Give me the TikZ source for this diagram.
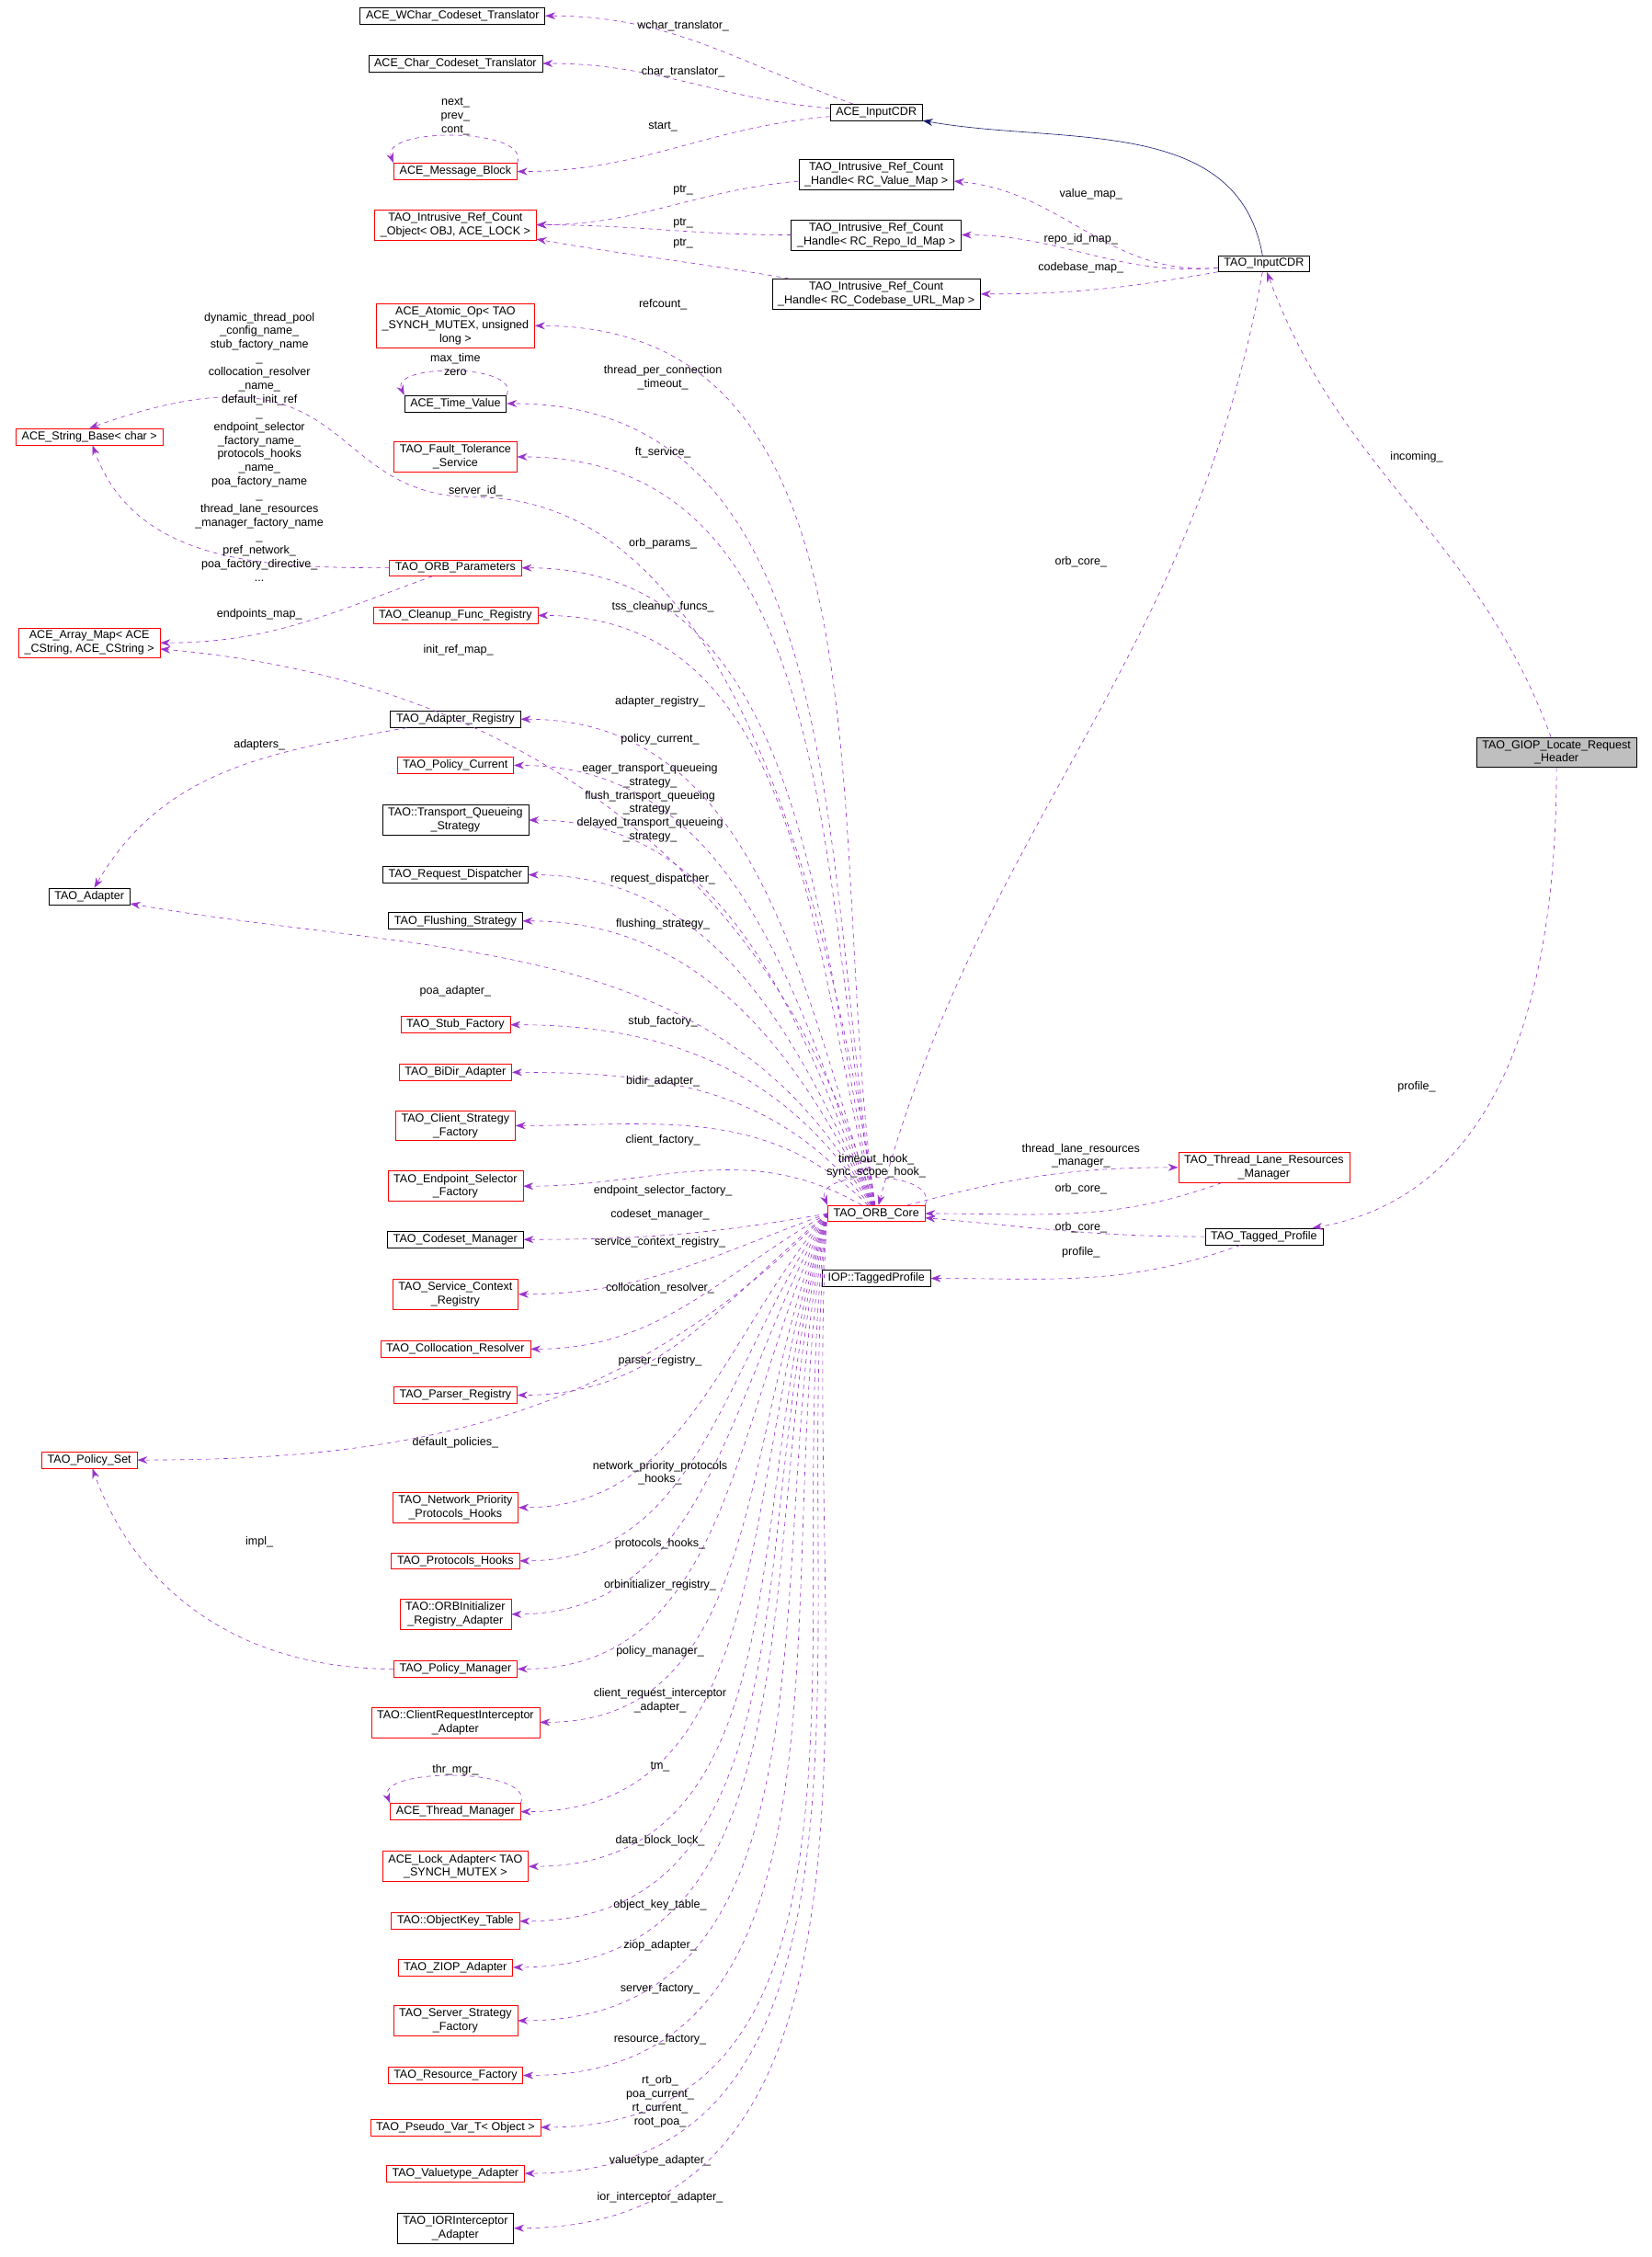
\documentclass[tikz,border=0pt]{standalone}
\usepackage{fontspec}
\setmainfont{Liberation Sans}
\usetikzlibrary{arrows.meta}
\definecolor{membercolor}{rgb}{0.60,0.20,0.80}
\definecolor{basecolor}{rgb}{0.10,0.10,0.44}
\tikzset{
  cls/.style={draw=black, fill=white, inner xsep=4pt, inner ysep=2pt, align=center, font=\fontsize{8}{9.5}\selectfont},
  redcls/.style={cls, draw=red},
  member/.style={draw=membercolor, dashed, -{Stealth[length=7pt,width=5pt]}},
  base/.style={draw=basecolor, -{Stealth[length=7pt,width=5pt]}},
  lbl/.style={inner sep=0pt, align=center, font=\fontsize{8}{9.5}\selectfont}
}
\begin{document}
\catcode`\_=12
\begin{tikzpicture}[x=1pt,y=-1pt]
\useasboundingbox (0,0) rectangle (1146,1566);
% classes, top part
\node[cls] (wchar) at (314,11) {ACE_WChar_Codeset_Translator};
\node[cls] (char) at (316,44) {ACE_Char_Codeset_Translator};
\node[redcls] (msgblock) at (316,119) {ACE_Message_Block};
\node[cls] (acecdr) at (608,78) {ACE_InputCDR};
\node[cls] (hvalue) at (608,121) {TAO_Intrusive_Ref_Count\\_Handle< RC_Value_Map >};
\node[redcls] (refobj) at (316,156) {TAO_Intrusive_Ref_Count\\_Object< OBJ, ACE_LOCK >};
\node[cls] (hrepo) at (608,163) {TAO_Intrusive_Ref_Count\\_Handle< RC_Repo_Id_Map >};
\node[cls] (hcodebase) at (608,204) {TAO_Intrusive_Ref_Count\\_Handle< RC_Codebase_URL_Map >};
\node[cls] (inputcdr) at (877,183) {TAO_InputCDR};
\node[cls, fill=black!25] (giop) at (1080,522) {TAO_GIOP_Locate_Request\\_Header};
% classes, left column
\node[redcls] (atomic) at (316,226) {ACE_Atomic_Op< TAO\\_SYNCH_MUTEX, unsigned\\{}long >};
\node[cls] (timevalue) at (316,280) {ACE_Time_Value};
\node[redcls] (stringbase) at (62,303) {ACE_String_Base< char >};
\node[redcls] (ft) at (316,317) {TAO_Fault_Tolerance\\_Service};
\node[redcls] (params) at (316,394) {TAO_ORB_Parameters};
\node[redcls] (cleanup) at (316,427) {TAO_Cleanup_Func_Registry};
\node[redcls] (arraymap) at (62,446) {ACE_Array_Map< ACE\\_CString, ACE_CString >};
\node[cls] (adapterreg) at (316,499) {TAO_Adapter_Registry};
\node[redcls] (policycur) at (316,531) {TAO_Policy_Current};
\node[cls] (transport) at (316,569) {TAO::Transport_Queueing\\_Strategy};
\node[cls] (reqdisp) at (316,607) {TAO_Request_Dispatcher};
\node[cls] (flushing) at (316,639) {TAO_Flushing_Strategy};
\node[cls] (adapter) at (62,622) {TAO_Adapter};
\node[redcls] (stub) at (316,711) {TAO_Stub_Factory};
\node[redcls] (bidir) at (316,744) {TAO_BiDir_Adapter};
\node[redcls] (client) at (316,781) {TAO_Client_Strategy\\_Factory};
\node[redcls] (endpoint) at (316,823) {TAO_Endpoint_Selector\\_Factory};
\node[cls] (codeset) at (316,860) {TAO_Codeset_Manager};
\node[redcls] (servicectx) at (316,898) {TAO_Service_Context\\_Registry};
\node[redcls] (colloc) at (316,936) {TAO_Collocation_Resolver};
\node[redcls] (parser) at (316,968) {TAO_Parser_Registry};
\node[redcls] (policyset) at (62,1013) {TAO_Policy_Set};
\node[redcls] (netprio) at (316,1046) {TAO_Network_Priority\\_Protocols_Hooks};
\node[redcls] (protocols) at (316,1083) {TAO_Protocols_Hooks};
\node[redcls] (orbinit) at (316,1120) {TAO::ORBInitializer\\_Registry_Adapter};
\node[redcls] (policymgr) at (316,1158) {TAO_Policy_Manager};
\node[redcls] (clientreq) at (316,1195) {TAO::ClientRequestInterceptor\\_Adapter};
\node[redcls] (threadmgr) at (316,1257) {ACE_Thread_Manager};
\node[redcls] (lockad) at (316,1295) {ACE_Lock_Adapter< TAO\\_SYNCH_MUTEX >};
\node[redcls] (objkey) at (316,1333) {TAO::ObjectKey_Table};
\node[redcls] (ziop) at (316,1365) {TAO_ZIOP_Adapter};
\node[redcls] (server) at (316,1402) {TAO_Server_Strategy\\_Factory};
\node[redcls] (resource) at (316,1440) {TAO_Resource_Factory};
\node[redcls] (pseudo) at (316,1476) {TAO_Pseudo_Var_T< Object >};
\node[redcls] (valuetype) at (316,1508) {TAO_Valuetype_Adapter};
\node[cls] (ior) at (316,1546) {TAO_IORInterceptor\\_Adapter};
% classes, middle and right
\node[redcls] (core) at (608,842) {TAO_ORB_Core};
\node[redcls] (lanes) at (877,810) {TAO_Thread_Lane_Resources\\_Manager};
\node[cls] (tagged) at (877,858) {TAO_Tagged_Profile};
\node[cls] (iop) at (608,887) {IOP::TaggedProfile};
% inheritance
\draw[base] (inputcdr) to[out=100,in=-10] (acecdr);
% members of ACE_InputCDR and TAO_InputCDR
\draw[member] (acecdr) to[out=160,in=0] (wchar);
\draw[member] (acecdr) to[out=175,in=0] (char);
\draw[member] (acecdr) to[out=185,in=0] (msgblock);
\draw[member] (msgblock.north east) .. controls +(10,-25) and +(-10,-25) .. (msgblock.north west);
\draw[member] (hvalue) to[out=185,in=0] (refobj);
\draw[member] (hrepo) to[out=180,in=0] (refobj);
\draw[member] (hcodebase) to[out=170,in=-10] (refobj);
\draw[member] (inputcdr) to[out=185,in=-5] (hvalue);
\draw[member] (inputcdr) to[out=185,in=0] (hrepo);
\draw[member] (inputcdr) to[out=190,in=0] (hcodebase);
\draw[member] (inputcdr) to[out=260,in=75] (core);
\draw[member] (giop) to[out=110,in=-70] (inputcdr);
\draw[member] (giop) to[out=270,in=10] (tagged);
% members of TAO_ORB_Core, above it
\draw[member] (core) to[out=98,in=0] (atomic);
\draw[member] (timevalue.north east) .. controls +(10,-22) and +(-10,-22) .. (timevalue.north west);
\draw[member] (core) to[out=99,in=0] (timevalue);
\draw[member] (core) to[out=100,in=0] (ft);
\draw[member] (core) .. controls (560,520) and (470,345) .. (330,345) .. controls (220,345) and (250,230) .. (stringbase.north);
\draw[member] (params) to[out=180,in=-70] (stringbase);
\draw[member] (core) to[out=102,in=0] (params);
\draw[member] (params) to[out=200,in=0] (arraymap);
\draw[member] (core) to[out=104,in=0] (cleanup);
\draw[member] (core) to[out=106,in=-5] (arraymap);
\draw[member] (core) to[out=108,in=0] (adapterreg);
\draw[member] (adapterreg) to[out=190,in=60] (adapter);
\draw[member] (core) to[out=110,in=0] (policycur);
\draw[member] (core) to[out=112,in=0] (transport);
\draw[member] (core) to[out=114,in=0] (reqdisp);
\draw[member] (core) to[out=116,in=0] (flushing);
\draw[member] (core) to[out=118,in=-10] (adapter);
\draw[member] (core) to[out=122,in=0] (stub);
\draw[member] (core) to[out=128,in=0] (bidir);
\draw[member] (core) to[out=135,in=0] (client);
\draw[member] (core) to[out=150,in=0] (endpoint);
% members of TAO_ORB_Core, below it
\draw[member] (core.west) to[out=190,in=0] (codeset);
\draw[member] (core.west) to[out=200,in=0] (servicectx);
\draw[member] (core.west) to[out=210,in=0] (colloc);
\draw[member] (core.west) to[out=220,in=0] (parser);
\draw[member] (core.west) to[out=225,in=0] (policyset);
\draw[member] (core.west) to[out=230,in=0] (netprio);
\draw[member] (core.west) to[out=235,in=0] (protocols);
\draw[member] (core.west) to[out=240,in=0] (orbinit);
\draw[member] (policymgr) to[out=180,in=-70] (policyset);
\draw[member] (core.west) to[out=244,in=0] (policymgr);
\draw[member] (core.west) to[out=247,in=0] (clientreq);
\draw[member] (threadmgr.north east) .. controls +(10,-25) and +(-10,-25) .. (threadmgr.north west);
\draw[member] (core.west) to[out=250,in=0] (threadmgr);
\draw[member] (core.west) to[out=252,in=0] (lockad);
\draw[member] (core.west) to[out=254,in=0] (objkey);
\draw[member] (core.west) to[out=256,in=0] (ziop);
\draw[member] (core.west) to[out=258,in=0] (server);
\draw[member] (core.west) to[out=260,in=0] (resource);
\draw[member] (core.west) to[out=262,in=0] (pseudo);
\draw[member] (core.west) to[out=264,in=0] (valuetype);
\draw[member] (core.west) to[out=266,in=0] (ior);
% members on the right
\draw[member] (core.north east) .. controls +(10,-25) and +(-10,-25) .. (core.north west);
\draw[member] (core) to[out=15,in=180] (lanes);
\draw[member] (lanes) to[out=200,in=0] (core);
\draw[member] (tagged) to[out=180,in=-5] (core);
\draw[member] (tagged) to[out=200,in=0] (iop);
% labels
\node[lbl] (l1) at (474,18) {wchar_translator_};
\node[lbl] (l2) at (474,50) {char_translator_};
\node[lbl] (l3) at (460,88) {start_};
\node[lbl] (l4) at (316,81) {next_\\prev_\\cont_};
\node[lbl] (l5) at (474,132) {ptr_};
\node[lbl] (l6) at (474,155) {ptr_};
\node[lbl] (l7) at (474,169) {ptr_};
\node[lbl] (l8) at (757,135) {value_map_};
\node[lbl] (l9) at (750,166) {repo_id_map_};
\node[lbl] (l10) at (750,186) {codebase_map_};
\node[lbl] (l11) at (983,317) {incoming_};
\node[lbl] (l12) at (750,390) {orb_core_};
\node[lbl] (l13) at (983,754) {profile_};
\node[lbl] (l14) at (460,211) {refcount_};
\node[lbl] (l15) at (316,253) {max_time\\zero};
\node[lbl] (l16) at (460,262) {thread_per_connection\\_timeout_};
\node[lbl] (l17) at (460,314) {ft_service_};
\node[lbl] (l18) at (330,341) {server_id_};
\node[lbl] (l19) at (180,310) {dynamic_thread_pool\\_config_name_\\stub_factory_name\\_\\collocation_resolver\\_name_\\default_init_ref\\_\\endpoint_selector\\_factory_name_\\protocols_hooks\\_name_\\poa_factory_name\\_\\thread_lane_resources\\_manager_factory_name\\_\\pref_network_\\poa_factory_directive_\\...};
\node[lbl] (l20) at (460,377) {orb_params_};
\node[lbl] (l21) at (180,426) {endpoints_map_};
\node[lbl] (l22) at (460,421) {tss_cleanup_funcs_};
\node[lbl] (l23) at (318,451) {init_ref_map_};
\node[lbl] (l24) at (458,487) {adapter_registry_};
\node[lbl] (l25) at (180,517) {adapters_};
\node[lbl] (l26) at (458,513) {policy_current_};
\node[lbl] (l27) at (451,557) {eager_transport_queueing\\_strategy_\\flush_transport_queueing\\_strategy_\\delayed_transport_queueing\\_strategy_};
\node[lbl] (l28) at (460,610) {request_dispatcher_};
\node[lbl] (l29) at (460,641) {flushing_strategy_};
\node[lbl] (l30) at (316,688) {poa_adapter_};
\node[lbl] (l31) at (460,709) {stub_factory_};
\node[lbl] (l32) at (460,750) {bidir_adapter_};
\node[lbl] (l33) at (460,791) {client_factory_};
\node[lbl] (l34) at (460,826) {endpoint_selector_factory_};
\node[lbl] (l35) at (458,843) {codeset_manager_};
\node[lbl] (l36) at (458,862) {service_context_registry_};
\node[lbl] (l37) at (458,894) {collocation_resolver_};
\node[lbl] (l38) at (458,944) {parser_registry_};
\node[lbl] (l39) at (316,1001) {default_policies_};
\node[lbl] (l40) at (458,1022) {network_priority_protocols\\_hooks_};
\node[lbl] (l41) at (458,1071) {protocols_hooks_};
\node[lbl] (l42) at (458,1100) {orbinitializer_registry_};
\node[lbl] (l43) at (180,1070) {impl_};
\node[lbl] (l44) at (458,1146) {policy_manager_};
\node[lbl] (l45) at (458,1180) {client_request_interceptor\\_adapter_};
\node[lbl] (l46) at (316,1228) {thr_mgr_};
\node[lbl] (l47) at (458,1226) {tm_};
\node[lbl] (l48) at (458,1277) {data_block_lock_};
\node[lbl] (l49) at (458,1322) {object_key_table_};
\node[lbl] (l50) at (458,1350) {ziop_adapter_};
\node[lbl] (l51) at (458,1380) {server_factory_};
\node[lbl] (l52) at (458,1415) {resource_factory_};
\node[lbl] (l53) at (458,1458) {rt_orb_\\poa_current_\\rt_current_\\root_poa_};
\node[lbl] (l54) at (458,1499) {valuetype_adapter_};
\node[lbl] (l55) at (458,1525) {ior_interceptor_adapter_};
\node[lbl] (l56) at (608,809) {timeout_hook_\\sync_scope_hook_};
\node[lbl] (l57) at (750,802) {thread_lane_resources\\_manager_};
\node[lbl] (l58) at (750,825) {orb_core_};
\node[lbl] (l59) at (750,852) {orb_core_};
\node[lbl] (l60) at (750,869) {profile_};
\end{tikzpicture}
\end{document}
